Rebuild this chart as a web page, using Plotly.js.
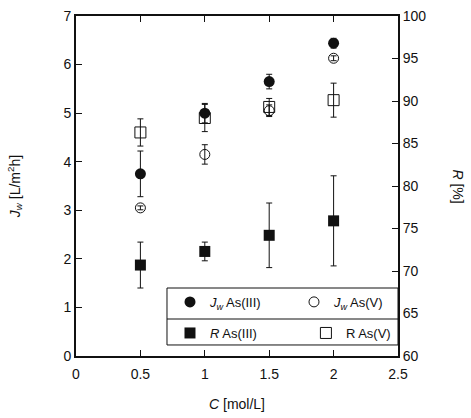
<!DOCTYPE html>
<html>
<head>
<meta charset="utf-8">
<script src="https://cdn.plot.ly/plotly-3.0.1.min.js"></script>
<style>html,body{margin:0;padding:0;background:#fff;}#chart{width:471px;height:418px;}</style>
</head>
<body>
<div id="chart"></div>
<script>
// Concentration of the feed solution [mol/L]
const concentration = [0.5, 1.0, 1.5, 2.0];

// Water flux Jw [L/m2h] and its error
const jwAs3 = [3.75, 5.00, 5.65, 6.44];
const jwAs3Err = [0.47, 0.20, 0.15, 0.10];
const jwAs5 = [3.05, 4.15, 5.05, 6.13];
const jwAs5Err = [0.04, 0.20, 0.12, 0.05];

// Rejection R [%] and its error
const rAs3 = [70.7, 72.3, 74.2, 75.9];
const rAs3Err = [2.7, 1.1, 3.8, 5.3];
const rAs5 = [86.3, 88.0, 89.3, 90.1];
const rAs5Err = [1.6, 1.6, 1.0, 2.0];

const FONT = 'Liberation Sans, Arial, sans-serif';
const INK = '#111';

function errBar(arr) {
  return {type: 'data', array: arr, visible: true, color: INK, thickness: 1, width: 3};
}

const traces = [
  {
    x: concentration, y: jwAs3, error_y: errBar(jwAs3Err),
    type: 'scatter', mode: 'markers', name: '<i>J</i><sub><i>w</i></sub> As(III)',
    marker: {symbol: 'circle', size: 11, color: INK},
    legend: 'legend', yaxis: 'y'
  },
  {
    x: concentration, y: jwAs5, error_y: errBar(jwAs5Err),
    type: 'scatter', mode: 'markers', name: '<i>J</i><sub><i>w</i></sub> As(V)',
    marker: {symbol: 'circle-open', size: 10, color: INK, line: {width: 1}},
    legend: 'legend2', yaxis: 'y'
  },
  {
    x: concentration, y: rAs3, error_y: errBar(rAs3Err),
    type: 'scatter', mode: 'markers', name: '<i>R</i> As(III)',
    marker: {symbol: 'square', size: 11, color: INK},
    legend: 'legend3', yaxis: 'y2'
  },
  {
    x: concentration, y: rAs5, error_y: errBar(rAs5Err),
    type: 'scatter', mode: 'markers', name: 'R As(V)',
    marker: {symbol: 'square-open', size: 11, color: INK, line: {width: 1}},
    legend: 'legend4', yaxis: 'y2'
  }
];

// one legend per entry so the 2x2 key can be laid out inside a ruled box
function legendAt(x, y) {
  return {
    x: x, y: y, xanchor: 'left', yanchor: 'middle',
    bgcolor: 'rgba(0,0,0,0)', borderwidth: 0,
    font: {family: FONT, size: 13, color: INK}
  };
}

const keyLeft = 0.2826, keyTop = 0.2, keyBottom = 0.0324, keyRule = 0.1088;

const layout = {
  width: 471, height: 418,
  margin: {l: 76, r: 73, t: 16, b: 62},
  paper_bgcolor: '#fff', plot_bgcolor: '#fff',
  font: {family: FONT, size: 14, color: INK},
  showlegend: true,
  xaxis: {
    range: [0, 2.5], tickvals: [0, 0.5, 1, 1.5, 2, 2.5], ticktext: ['0', '0.5', '1', '1.5', '2', '2.5'],
    ticks: 'inside', ticklen: 6, tickcolor: INK, showgrid: false, zeroline: false,
    showline: true, linecolor: INK, linewidth: 2, mirror: 'ticks', ticklabelstandoff: 4,
    title: {text: '<i>C</i> [mol/L]', font: {family: FONT, size: 14, color: INK}, standoff: 18}
  },
  yaxis: {
    range: [0, 7], dtick: 1, ticks: 'inside', ticklen: 6, tickcolor: INK,
    showgrid: false, zeroline: false, showline: true, linecolor: INK, linewidth: 2,
    title: {text: '<i>J</i><sub><i>w</i></sub> [L/m<sup>2</sup>h]', font: {family: FONT, size: 14, color: INK}, standoff: 40}
  },
  yaxis2: {
    range: [60, 100], dtick: 5, overlaying: 'y', side: 'right',
    ticks: 'inside', ticklen: 6, tickcolor: INK,
    showgrid: false, zeroline: false, showline: true, linecolor: INK, linewidth: 2
  },
  legend: legendAt(0.2919, 0.159),
  legend2: legendAt(0.677, 0.159),
  legend3: legendAt(0.2919, 0.0676),
  legend4: legendAt(0.714, 0.0676),
  shapes: [
    {type: 'rect', xref: 'paper', yref: 'paper', x0: keyLeft, x1: 1, y0: keyBottom, y1: keyTop,
     line: {color: INK, width: 1}, fillcolor: '#fff', layer: 'above'},
    {type: 'line', xref: 'paper', yref: 'paper', x0: keyLeft, x1: 1, y0: keyRule, y1: keyRule,
     line: {color: INK, width: 1}, layer: 'above'}
  ],
  annotations: [
    {
      text: '<i>R</i> [%]', xref: 'paper', yref: 'paper', x: 1.185, y: 0.5, xanchor: 'center', yanchor: 'middle',
      showarrow: false, textangle: 90, font: {family: FONT, size: 14, color: INK}
    }
  ]
};

Plotly.newPlot('chart', traces, layout, {displayModeBar: false, staticPlot: true});
</script>
</body>
</html>
